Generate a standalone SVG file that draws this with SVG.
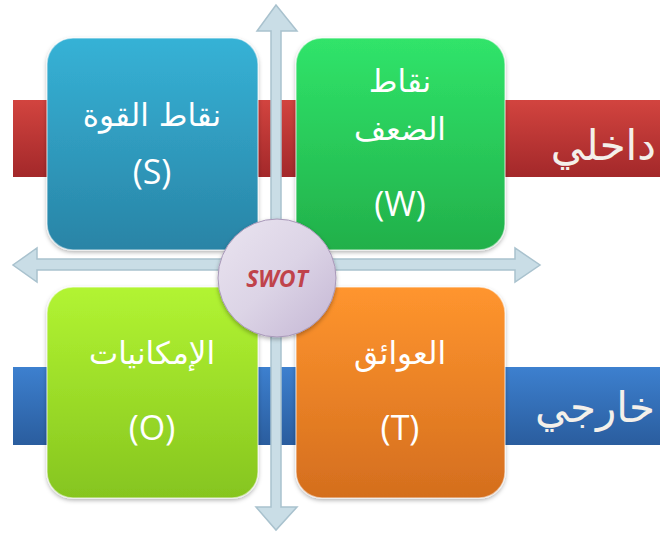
<svg xmlns="http://www.w3.org/2000/svg" width="660" height="533" viewBox="0 0 660 533">
<defs>
<linearGradient id="gRed" x1="0" y1="0" x2="0" y2="1"><stop offset="0" stop-color="#d2443f"/><stop offset="1" stop-color="#a3282a"/></linearGradient>
<linearGradient id="gBlueBand" x1="0" y1="0" x2="0" y2="1"><stop offset="0" stop-color="#3d80cf"/><stop offset="1" stop-color="#2a5d9e"/></linearGradient>
<linearGradient id="gS" x1="0" y1="0" x2="0" y2="1"><stop offset="0" stop-color="#36b2d6"/><stop offset="1" stop-color="#2984a6"/></linearGradient>
<linearGradient id="gW" x1="0" y1="0" x2="0" y2="1"><stop offset="0" stop-color="#30e46a"/><stop offset="1" stop-color="#22b04a"/></linearGradient>
<linearGradient id="gO" x1="0" y1="0" x2="0" y2="1"><stop offset="0" stop-color="#b2f432"/><stop offset="1" stop-color="#86c51f"/></linearGradient>
<linearGradient id="gT" x1="0" y1="0" x2="0" y2="1"><stop offset="0" stop-color="#ff952e"/><stop offset="1" stop-color="#d46e1e"/></linearGradient>
<linearGradient id="gC" x1="0" y1="0" x2="1" y2="1"><stop offset="0" stop-color="#eae4f0"/><stop offset="0.5" stop-color="#dcd4e6"/><stop offset="1" stop-color="#c4b6d4"/></linearGradient>
<filter id="sh" x="-10%" y="-10%" width="120%" height="125%"><feDropShadow dx="0" dy="2" stdDeviation="2" flood-color="#000" flood-opacity="0.3"/></filter>
</defs>
<style>
.box{stroke:#ffffff;stroke-opacity:0.5;stroke-width:1.5;filter:url(#sh)}
.lbl{font-family:"DejaVu Sans","Noto Sans",sans-serif;fill:#ffffff;text-anchor:middle;font-size:31px}
.lat{font-family:"Open Sans","DejaVu Sans",sans-serif;fill:#ffffff;text-anchor:middle;font-size:34px}
.band{font-family:"DejaVu Sans","Noto Sans",sans-serif;fill:#f4f0ea;text-anchor:start;font-size:42px}
.arr{fill:#c9dde6;stroke:#a9c2ce;stroke-width:1.5}
</style>
<g id="band-internal">
<rect x="13" y="100" width="647" height="77" fill="url(#gRed)"/>
<text class="band" x="656" y="160" direction="rtl">داخلي</text>
</g>
<g id="band-external">
<rect x="13" y="367" width="647" height="78" fill="url(#gBlueBand)"/>
<text class="band" x="655" y="422" direction="rtl">خارجي</text>
</g>
<g id="connectors">
<polygon class="arr" points="271,507 271,31 257,31 276,5 297,31 281,31 281,507 297,507 276,530 256,507"/>
<polygon class="arr" points="37,259 515,259 515,248 540,265 515,282 515,270 37,270 37,282 13,265 37,248"/>
</g>
<g id="node-S">
<rect class="box" x="47" y="38" width="211" height="212" rx="26" fill="url(#gS)"/>
<text class="lbl" x="152" y="126" direction="rtl">نقاط القوة</text>
<text class="lat" x="152" y="184">(S)</text>
</g>
<g id="node-W">
<rect class="box" x="296" y="38" width="209" height="212" rx="26" fill="url(#gW)"/>
<text class="lbl" x="400" y="92" direction="rtl">نقاط</text>
<text class="lbl" x="400" y="140" direction="rtl">الضعف</text>
<text class="lat" x="400" y="216">(W)</text>
</g>
<g id="node-O">
<rect class="box" x="47" y="287" width="211" height="211" rx="26" fill="url(#gO)"/>
<text class="lbl" x="152" y="364" direction="rtl">الإمكانيات</text>
<text class="lat" x="152" y="440">(O)</text>
</g>
<g id="node-T">
<rect class="box" x="296" y="287" width="209" height="211" rx="26" fill="url(#gT)"/>
<text class="lbl" x="400" y="364" direction="rtl">العوائق</text>
<text class="lat" x="400" y="440">(T)</text>
</g>
<g id="node-SWOT">
<circle cx="277" cy="278" r="59" fill="url(#gC)" stroke="#a898b8" stroke-width="1" filter="url(#sh)"/>
<text x="277" y="287" text-anchor="middle" font-family="'Open Sans','DejaVu Sans',sans-serif" font-size="23" font-weight="bold" font-style="italic" fill="#c0434b">SWOT</text>
</g>
</svg>
